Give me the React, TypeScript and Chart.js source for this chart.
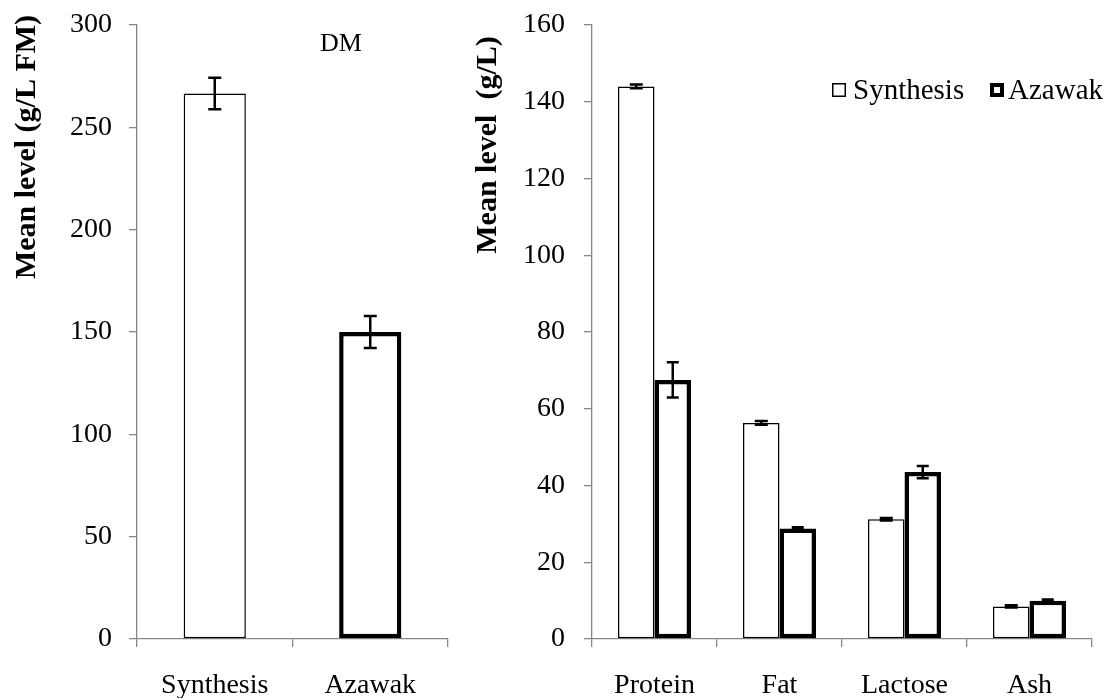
import React, { useEffect, useRef } from "react";
import { Chart, registerables } from "chart.js";

Chart.register(...registerables);

// ---- Data ----
const dmCategories = ["Synthesis", "Azawak"];
const dmValues = [266.5, 150];
const dmErrors = [7.7, 7.8];
const dmTickMax = 300;
const dmTickStep = 50;

const compCategories = ["Protein", "Fat", "Lactose", "Ash"];
const seriesNames = ["Synthesis", "Azawak"];
const synthesisValues = [144, 56.3, 31.2, 8.5];
const synthesisErrors = [0.5, 0.5, 0.3, 0.3];
const azawakValues = [67.5, 28.8, 43.5, 10];
const azawakErrors = [4.6, 0.3, 1.6, 0.3];
const compTickMax = 160;
const compTickStep = 20;

const leftTitle = "Mean level (g/L FM)";
const rightTitle = "Mean level  (g/L)";
const panelLabel = "DM";

const FONT = "'Liberation Serif', 'Times New Roman', serif";
const AXIS_GRAY = "#868686";

const errorBarPlugin = {
  id: "errorBars",
  afterDatasetsDraw(chart: any) {
    const ctx = chart.ctx;
    const yScale = chart.scales.y;
    chart.data.datasets.forEach((ds: any, di: number) => {
      const errs: number[] | undefined = ds.errorBars;
      if (!errs) return;
      const meta = chart.getDatasetMeta(di);
      meta.data.forEach((bar: any, i: number) => {
        const v = ds.data[i];
        const e = errs[i];
        const x = bar.x;
        const yTop = yScale.getPixelForValue(v + e);
        const yBot = yScale.getPixelForValue(v - e);
        const cap = ds.capWidth || 12;
        ctx.save();
        ctx.strokeStyle = "#000";
        ctx.lineWidth = 2.5;
        ctx.beginPath();
        ctx.moveTo(x, yTop);
        ctx.lineTo(x, yBot);
        ctx.moveTo(x - cap / 2, yTop);
        ctx.lineTo(x + cap / 2, yTop);
        ctx.moveTo(x - cap / 2, yBot);
        ctx.lineTo(x + cap / 2, yBot);
        ctx.stroke();
        ctx.restore();
      });
    });
  },
};

function drawRotatedTitle(ctx: CanvasRenderingContext2D, text: string, x: number, y: number) {
  ctx.save();
  ctx.translate(x, y);
  ctx.rotate(-Math.PI / 2);
  ctx.font = `bold 30px ${FONT}`;
  ctx.fillStyle = "#000";
  ctx.textAlign = "center";
  ctx.textBaseline = "alphabetic";
  ctx.fillText(text, 0, 0);
  ctx.restore();
}

const leftTextPlugin = {
  id: "leftText",
  afterDraw(chart: any) {
    const ctx = chart.ctx as CanvasRenderingContext2D;
    drawRotatedTitle(ctx, leftTitle, 35, 147);
    ctx.save();
    ctx.font = `26px ${FONT}`;
    ctx.fillStyle = "#000";
    ctx.textAlign = "center";
    ctx.textBaseline = "middle";
    ctx.fillText(panelLabel, 341, 44);
    ctx.restore();
  },
};

const rightTextPlugin = {
  id: "rightText",
  afterDraw(chart: any) {
    const ctx = chart.ctx as CanvasRenderingContext2D;
    drawRotatedTitle(ctx, rightTitle, 26, 145);
    // legend
    ctx.save();
    ctx.font = `29px ${FONT}`;
    ctx.textBaseline = "middle";
    ctx.textAlign = "left";
    const yMid = 90;
    const box = 14;
    const boxX = [362, 520];
    const textX = [383, 538];
    const widths = [1.5, 4];
    seriesNames.forEach((name, i) => {
      const x = boxX[i];
      ctx.lineWidth = widths[i];
      ctx.strokeStyle = "#000";
      const inset = widths[i] / 2;
      ctx.fillStyle = "#fff";
      ctx.fillRect(x, yMid - box / 2, box, box);
      ctx.strokeRect(x + inset, yMid - box / 2 + inset, box - widths[i], box - widths[i]);
      ctx.fillStyle = "#000";
      ctx.fillText(name, textX[i], yMid + 1);
    });
    ctx.restore();
  },
};

function yScaleOptions(max: number, step: number, width: number, pad: number) {
  return {
    min: 0,
    max,
    ticks: {
      stepSize: step,
      color: "#000",
      font: { family: FONT, size: 28 },
      padding: pad,
    },
    grid: {
      drawOnChartArea: false,
      drawTicks: true,
      tickLength: 8,
      color: AXIS_GRAY,
      lineWidth: 1.3,
    },
    border: { color: AXIS_GRAY, width: 1.3 },
    afterFit(scale: any) {
      scale.width = width;
      scale.paddingTop = 0;
      scale.paddingBottom = 0;
    },
  };
}

function xScaleOptions() {
  return {
    offset: true,
    ticks: {
      color: "#000",
      font: { family: FONT, size: 28 },
      padding: 22,
      maxRotation: 0,
    },
    grid: {
      offset: true,
      drawOnChartArea: false,
      drawTicks: true,
      tickLength: 8,
      color: AXIS_GRAY,
      lineWidth: 1.3,
    },
    border: { color: AXIS_GRAY, width: 1.3 },
    afterFit(scale: any) {
      scale.height = 59;
      scale.paddingLeft = 0;
      scale.paddingRight = 0;
    },
  };
}

export default function App() {
  const leftRef = useRef<HTMLCanvasElement>(null);
  const rightRef = useRef<HTMLCanvasElement>(null);

  useEffect(() => {
    const left = new Chart(leftRef.current!, {
      type: "bar",
      data: {
        labels: dmCategories,
        datasets: [
          {
            label: "DM",
            data: dmValues,
            backgroundColor: "#fff",
            borderColor: "#000",
            borderWidth: [1.5, 4.5],
            borderSkipped: false,
            barPercentage: 0.8,
            categoryPercentage: 0.5,
            errorBars: dmErrors,
            capWidth: 13,
          } as any,
        ],
      },
      options: {
        animation: false,
        responsive: false,
        maintainAspectRatio: false,
        layout: { padding: { top: 25, right: 22, left: 0, bottom: 0 } },
        plugins: { legend: { display: false }, tooltip: { enabled: false } },
        scales: {
          x: xScaleOptions(),
          y: yScaleOptions(dmTickMax, dmTickStep, 137, 17),
        },
      } as any,
      plugins: [errorBarPlugin, leftTextPlugin],
    });

    const right = new Chart(rightRef.current!, {
      type: "bar",
      data: {
        labels: compCategories,
        datasets: [
          {
            label: seriesNames[0],
            data: synthesisValues,
            backgroundColor: "#fff",
            borderColor: "#000",
            borderWidth: 1.5,
            borderSkipped: false,
            barPercentage: 1,
            categoryPercentage: 0.584,
            errorBars: synthesisErrors,
            capWidth: 13,
          } as any,
          {
            label: seriesNames[1],
            data: azawakValues,
            backgroundColor: "#fff",
            borderColor: "#000",
            borderWidth: 4.5,
            borderSkipped: false,
            barPercentage: 1,
            categoryPercentage: 0.584,
            errorBars: azawakErrors,
            capWidth: 12,
          } as any,
        ],
      },
      options: {
        animation: false,
        responsive: false,
        maintainAspectRatio: false,
        layout: { padding: { top: 25, right: 21, left: 0, bottom: 0 } },
        plugins: { legend: { display: false }, tooltip: { enabled: false } },
        scales: {
          x: xScaleOptions(),
          y: yScaleOptions(compTickMax, compTickStep, 122, 19),
        },
      } as any,
      plugins: [errorBarPlugin, rightTextPlugin],
    });

    return () => {
      left.destroy();
      right.destroy();
    };
  }, []);

  return (
    <div
      style={{
        position: "fixed",
        left: 0,
        top: 0,
        width: 1113,
        height: 698,
        background: "#fff",
        overflow: "hidden",
      }}
    >
      <canvas
        ref={leftRef}
        width={470}
        height={698}
        style={{ position: "absolute", left: 0, top: 0, width: 470, height: 698 }}
      />
      <canvas
        ref={rightRef}
        width={643}
        height={698}
        style={{ position: "absolute", left: 470, top: 0, width: 643, height: 698 }}
      />
    </div>
  );
}
